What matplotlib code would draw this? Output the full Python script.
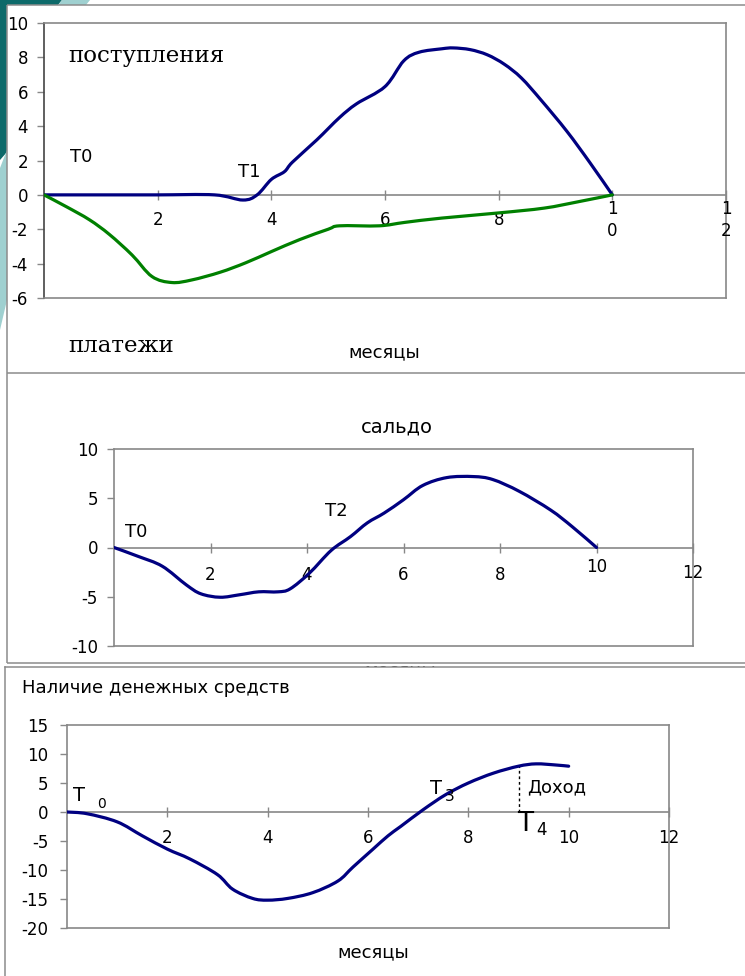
import matplotlib
matplotlib.use("Agg")
import matplotlib.pyplot as plt
from matplotlib.patches import Rectangle, Polygon, PathPatch
from matplotlib.path import Path

# ---- data -------------------------------------------------------------
# поступления (receipts), months / value
rec_x = [0, 1, 2, 3, 3.5, 3.75, 4.0, 4.23, 4.37, 4.8, 5.2, 5.5, 6.0, 6.33, 6.6,
         7.0, 7.2, 7.5, 7.8, 8.1, 8.4, 8.75, 9.2, 9.6, 10]
rec_y = [0, 0, 0, 0, -0.3, 0, 0.9, 1.35, 1.9, 3.2, 4.5, 5.3, 6.3, 7.8, 8.3,
         8.5, 8.55, 8.45, 8.15, 7.6, 6.8, 5.5, 3.7, 1.9, 0]

# платежи (payments)
pay_x = [0, 0.4, 0.8, 1.15, 1.55, 1.9, 2.25, 2.6, 3.1, 3.55, 4.0, 4.5, 5.0, 5.2,
         5.9, 6.35, 7.0, 8.0, 8.8, 9.4, 10]
pay_y = [0, -0.7, -1.45, -2.3, -3.5, -4.75, -5.1, -4.95, -4.5, -3.95, -3.3, -2.6,
         -2.0, -1.8, -1.8, -1.6, -1.35, -1.05, -0.77, -0.4, 0]

# сальдо (balance)
bal_x = [0, 0.5, 1.0, 1.5, 1.8, 2.2, 2.6, 3.0, 3.4, 3.65, 4.05, 4.5, 4.9, 5.25,
         5.6, 6.0, 6.4, 6.9, 7.45, 7.85, 8.4, 9.05, 9.5, 10]
bal_y = [0, -0.9, -1.9, -3.8, -4.7, -5.05, -4.8, -4.5, -4.5, -4.2, -2.6, -0.3,
         1.1, 2.5, 3.5, 4.85, 6.3, 7.1, 7.2, 6.9, 5.7, 3.8, 2.1, 0]

# наличие денежных средств (cash on hand)
cash_x = [0, 0.4, 1.0, 1.5, 2.0, 2.45, 3.0, 3.3, 3.7, 4.0, 4.4, 4.9, 5.4, 5.7,
          6.1, 6.4, 6.65, 7.1, 7.55, 8.0, 8.5, 9.0, 9.35, 9.75, 10.0]
cash_y = [0, -0.3, -1.7, -4.1, -6.4, -8.1, -10.8, -13.3, -14.9, -15.2, -14.9,
          -13.9, -11.9, -9.5, -6.4, -4.1, -2.5, 0.4, 3.0, 5.0, 6.7, 7.9, 8.3,
          8.1, 7.9]
income_month = 9.0
income_value = 7.9

month_ticks = [2, 4, 6, 8, 10, 12]
month_labels_top = ["2", "4", "6", "8", "1\n0", "1\n2"]
month_labels = ["2", "4", "6", "8", "10", "12"]

yticks_top = [-6, -4, -2, 0, 2, 4, 6, 8, 10]
yticks_mid = [-10, -5, 0, 5, 10]
yticks_bot = [-20, -15, -10, -5, 0, 5, 10, 15]

# ---- styling ------------------------------------------------------------
NAVY = "#000080"
GREEN = "#008000"
GRID = "#888888"
FRAME = "#8c8c8c"
SANS = "DejaVu Sans"
SERIF = "DejaVu Serif"

W, H = 745, 976
fig = plt.figure(figsize=(W / 100, H / 100), dpi=100)
fig.patch.set_facecolor("white")

# pixel-space canvas for the slide frames and free text
bg = fig.add_axes([0, 0, 1, 1], zorder=0)
bg.set_xlim(0, W)
bg.set_ylim(H, 0)
bg.axis("off")

# slide background decoration at the top-left corner
bg.add_patch(Polygon([(0, 0), (62, 0), (58, 5), (7, 5), (7, 152), (0, 160)],
                     closed=True, color="#0d6a6a", lw=0))
bg.add_patch(Polygon([(62, 0), (90, 0), (86, 5), (58, 5)],
                     closed=True, color="#9fd0d0", lw=0))
bg.add_patch(Polygon([(0, 168), (7, 150), (7, 300), (0, 330)],
                     closed=True, color="#9fd0d0", lw=0))


def hline(y, x0=7, x1=W):
    bg.plot([x0, x1], [y, y], color=FRAME, lw=1.1, solid_capstyle="butt")


def vline(x, y0, y1):
    bg.plot([x, x], [y0, y1], color=FRAME, lw=1.1, solid_capstyle="butt")


# panel frames
hline(5)
vline(7, 5, 373)
hline(373)
vline(7, 373, 663)
hline(663)

# x-axis caption of the middle panel, mostly covered by the lower panel
bg.text(400, 670, "месяцы", fontsize=13, family=SANS, ha="center", va="center")
bg.add_patch(Rectangle((5, 667), W, H, facecolor="white", edgecolor="none",
                       zorder=5))
bg.plot([5, W], [667, 667], color=FRAME, lw=1.1, zorder=6)
bg.plot([5, 5], [667, H], color=FRAME, lw=1.1, zorder=6)


def axes_px(x0, y0, x1, y1):
    return fig.add_axes([x0 / W, 1 - y1 / H, (x1 - x0) / W, (y1 - y0) / H],
                        zorder=2)


def smooth_line(ax, xs, ys, color):
    """Draw a smoothed (Catmull-Rom style) line through the given points."""
    n = len(xs)
    verts = [(xs[0], ys[0])]
    codes = [Path.MOVETO]
    for i in range(n - 1):
        x0, y0 = (xs[i - 1], ys[i - 1]) if i > 0 else (xs[i], ys[i])
        x1, y1 = xs[i], ys[i]
        x2, y2 = xs[i + 1], ys[i + 1]
        x3, y3 = (xs[i + 2], ys[i + 2]) if i + 2 < n else (x2, y2)
        t = 1 / 6
        verts += [(x1 + (x2 - x0) * t, y1 + (y2 - y0) * t),
                  (x2 - (x3 - x1) * t, y2 - (y3 - y1) * t),
                  (x2, y2)]
        codes += [Path.CURVE4] * 3
    ax.add_patch(PathPatch(Path(verts, codes), facecolor="none",
                           edgecolor=color, lw=2.3, zorder=3,
                           capstyle="round", joinstyle="round"))


def setup(ax, ylim, yticks, labels, offsets, ypad, left_color=GRID):
    ax.set_xlim(0, 12)
    ax.set_ylim(*ylim)
    ax.set_facecolor("white")
    for name, s in ax.spines.items():
        s.set_color(GRID)
        s.set_linewidth(1.2)
    ax.spines["left"].set_color(left_color)
    ax.set_yticks(yticks)
    ax.set_yticklabels([str(v) for v in yticks])
    ax.tick_params(axis="y", direction="out", length=5, width=1.0,
                   color=GRID, labelsize=12, pad=ypad)
    for lab in ax.get_yticklabels():
        lab.set_family(SANS)
    ax.set_xticks([])
    ax.axhline(0, color=GRID, lw=1.2, zorder=1)
    ax.plot(month_ticks, [0] * len(month_ticks), ls="none", marker="|",
            ms=7.5, mew=1.0, color=GRID, zorder=1, clip_on=False)
    for t, lab, off in zip(month_ticks, labels, offsets):
        ax.annotate(lab, (t, 0), xytext=(0, -off), textcoords="offset pixels",
                    ha="center", va="center", fontsize=12, family=SANS,
                    linespacing=1.25, annotation_clip=False)


# ---- panel 1: receipts and payments -----------------------------------------
ax1 = axes_px(44, 23, 726, 298)
setup(ax1, (-6, 10), yticks_top, month_labels_top, [25] * 6, 6.5,
      left_color="#444444")
smooth_line(ax1, rec_x, rec_y, NAVY)
smooth_line(ax1, pay_x, pay_y, GREEN)
ax1.text(0.42, 8.1, "поступления", fontsize=16.5, family=SERIF, va="center")
ax1.text(0.46, 2.2, "T0", fontsize=13, family=SANS, va="center")
ax1.text(3.41, 1.34, "T1", fontsize=13, family=SANS, va="center")
bg.text(68, 346, "платежи", fontsize=16.5, family=SERIF, va="center")
bg.text(384, 352, "месяцы", fontsize=13, family=SANS, ha="center",
        va="center")

# ---- panel 2: balance ---------------------------------------------------
ax2 = axes_px(114, 449, 693, 646)
setup(ax2, (-10, 10), yticks_mid, month_labels, [28, 28, 28, 28, 20, 26], 6.5)
smooth_line(ax2, bal_x, bal_y, NAVY)
ax2.text(0.23, 1.6, "T0", fontsize=13, family=SANS, va="center")
ax2.text(4.38, 3.7, "T2", fontsize=13, family=SANS, va="center")
bg.text(397, 427, "сальдо", fontsize=14, family=SANS, ha="center",
        va="center")

# ---- panel 3: cash on hand ---------------------------------------------------
ax3 = axes_px(67, 725, 669, 928)
setup(ax3, (-20, 15), yticks_bot, month_labels, [26] * 6, 8.5)
smooth_line(ax3, cash_x, cash_y, NAVY)
ax3.plot([income_month, income_month], [0, income_value], color="black",
         lw=1.0, ls=(0, (2, 2)), zorder=2)
ax3.text(0.12, 2.9, "T", fontsize=14, family=SANS, va="center")
ax3.text(0.6, 1.3, "0", fontsize=10, family=SANS, va="center")
ax3.text(7.23, 4.1, "T", fontsize=14, family=SANS, va="center", zorder=4)
ax3.text(7.53, 2.6, "3", fontsize=11, family=SANS, va="center", zorder=4)
ax3.text(9.18, 4.3, "Доход", fontsize=13, family=SANS, va="center")
ax3.text(8.98, -2.1, "T", fontsize=19, family=SANS, va="center")
ax3.text(9.36, -3.1, "4", fontsize=12, family=SANS, va="center")
bg.text(22, 688, "Наличие денежных средств", fontsize=13, family=SANS,
        va="center", zorder=7)
bg.text(373, 952, "месяцы", fontsize=13, family=SANS, ha="center",
        va="center", zorder=7)

fig.savefig("out.png", dpi=100, facecolor="white")
